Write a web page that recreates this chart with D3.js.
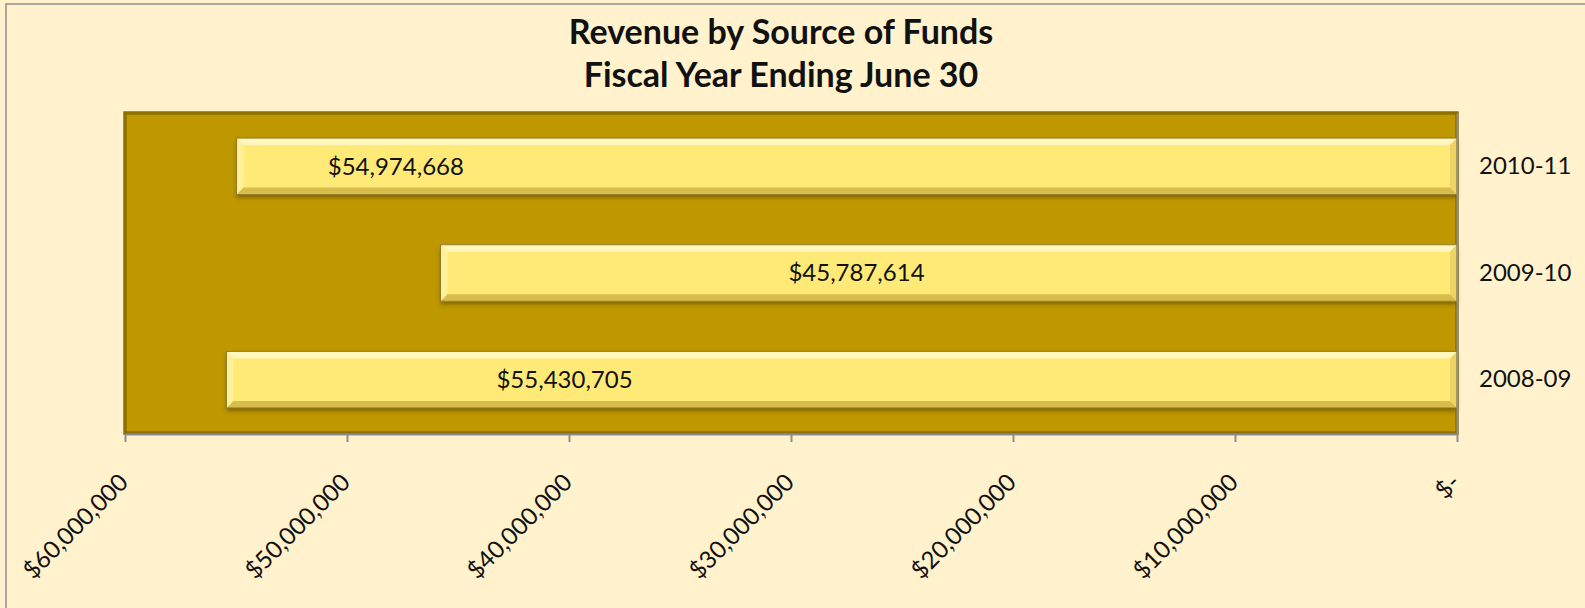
<!DOCTYPE html>
<html>
<head>
<meta charset="utf-8">
<script src="https://cdn.jsdelivr.net/npm/d3@7"></script>
<style>
  html, body { margin: 0; padding: 0; background: #fff2cc; }
  svg { display: block; }
  text { font-family: Lato, 'Open Sans', sans-serif; fill: #111; }
</style>
</head>
<body>
<div id="chart"></div>
<script>
const titleLines = ['Revenue by Source of Funds', 'Fiscal Year Ending June 30'];
const years = ['2010-11', '2009-10', '2008-09'];
const revenue = [54974668, 45787614, 55430705];
// where excel left each data label, in dollars along the axis
const labelAt = [47800000, 27050000, 40200000];
const tickValues = [60000000, 50000000, 40000000, 30000000, 20000000, 10000000, 0];
const tickLabels = ['$60,000,000', '$50,000,000', '$40,000,000', '$30,000,000', '$20,000,000', '$10,000,000', '$-'];

const width = 1585;
const height = 608;
const margin = { top: 113, right: 128, bottom: 175, left: 125 };
const plotRight = width - margin.right;
const plotBottom = height - margin.bottom;

const svg = d3.select('#chart')
  .append('svg')
  .attr('width', width)
  .attr('height', height);

const defs = svg.append('defs');
defs.append('filter')
  .attr('id', 'bar-shadow')
  .attr('x', '-5%').attr('y', '-20%')
  .attr('width', '110%').attr('height', '160%')
  .append('feDropShadow')
  .attr('dx', 0).attr('dy', 3)
  .attr('stdDeviation', 2)
  .attr('flood-color', '#4a3a00')
  .attr('flood-opacity', 0.55);

// chart frame (runs off the page at right and bottom)
svg.append('rect')
  .attr('x', 6).attr('y', 4)
  .attr('width', width + 20).attr('height', height + 20)
  .attr('fill', '#fff2cc')
  .attr('stroke', '#8e8e8e')
  .attr('stroke-width', 1.5);

const xScale = d3.scaleLinear()
  .domain([60000000, 0])
  .range([margin.left, plotRight]);
const yScale = d3.scaleBand()
  .domain(years)
  .range([margin.top, plotBottom])
  .paddingInner(0.47)
  .paddingOuter(0.235);

// plot area
svg.append('rect')
  .attr('x', xScale(60000000))
  .attr('y', margin.top)
  .attr('width', xScale(0) - xScale(60000000))
  .attr('height', plotBottom - margin.top)
  .attr('fill', '#bf9800')
  .attr('stroke', '#8c7000')
  .attr('stroke-width', 3.5);

const data = years.map((y, i) => ({ year: y, value: revenue[i], labelAt: labelAt[i] }));
const bevel = 7;

svg.append('g')
  .selectAll('g')
  .data(data)
  .join('g')
  .each(function (d) {
    const g = d3.select(this);
    const x0 = xScale(d.value);
    const x1 = xScale(0);
    const y0 = yScale(d.year);
    const y1 = y0 + yScale.bandwidth();
    g.append('rect')
      .attr('x', x0).attr('y', y0)
      .attr('width', x1 - x0).attr('height', y1 - y0)
      .attr('fill', '#ffea78')
      .attr('filter', 'url(#bar-shadow)');
    const faces = [
      { fill: '#fff7bd', pts: [[x0, y0], [x1, y0], [x1 - bevel, y0 + bevel], [x0 + bevel, y0 + bevel]] },
      { fill: '#fff09a', pts: [[x0, y0], [x0 + bevel, y0 + bevel], [x0 + bevel, y1 - bevel], [x0, y1]] },
      { fill: '#efd462', pts: [[x1, y0], [x1 - bevel, y0 + bevel], [x1 - bevel, y1 - bevel], [x1, y1]] },
      { fill: '#d9bd4c', pts: [[x0, y1], [x0 + bevel, y1 - bevel], [x1 - bevel, y1 - bevel], [x1, y1]] },
    ];
    g.selectAll('polygon')
      .data(faces)
      .join('polygon')
      .attr('points', (f) => f.pts.map((p) => p.join(',')).join(' '))
      .attr('fill', (f) => f.fill);
    g.append('rect')
      .attr('x', x0).attr('y', y0)
      .attr('width', x1 - x0).attr('height', y1 - y0)
      .attr('fill', 'none')
      .attr('stroke', '#8f7b2a')
      .attr('stroke-width', 1);
  });

// value labels
svg.append('g')
  .selectAll('text')
  .data(data)
  .join('text')
  .attr('x', (d) => xScale(d.labelAt))
  .attr('y', (d) => yScale(d.year) + yScale.bandwidth() / 2)
  .attr('dy', '0.35em')
  .attr('text-anchor', 'middle')
  .attr('font-size', '24px')
  .text((d) => d3.format('$,')(d.value));

// category axis on the right
const yAxis = d3.axisRight(yScale).tickSize(0).tickPadding(22);
svg.append('g')
  .attr('transform', `translate(${plotRight},0)`)
  .call(yAxis)
  .call((g) => g.select('.domain').attr('stroke', '#8e8e8e').attr('stroke-width', 2))
  .call((g) => g.selectAll('text')
    .attr('font-size', '24px')
    .attr('font-family', 'Lato, sans-serif')
    .attr('fill', '#111'));

// value axis at the bottom
const xAxis = d3.axisBottom(xScale)
  .tickValues(tickValues)
  .tickFormat((d, i) => tickLabels[i])
  .tickSize(8)
  .tickSizeOuter(0);
svg.append('g')
  .attr('transform', `translate(0,${plotBottom + 1})`)
  .call(xAxis)
  .call((g) => g.select('.domain').attr('stroke', '#8e8e8e').attr('stroke-width', 2))
  .call((g) => g.selectAll('.tick line').attr('stroke', '#8e8e8e').attr('stroke-width', 2))
  .call((g) => g.selectAll('text')
    .attr('y', 0)
    .attr('dy', 0)
    .attr('transform', 'translate(4,50) rotate(-45)')
    .attr('text-anchor', 'end')
    .attr('font-size', '24px')
    .attr('font-family', 'Lato, sans-serif')
    .attr('fill', '#111'));

// title
svg.append('text')
  .attr('x', 781)
  .attr('text-anchor', 'middle')
  .attr('font-weight', 'bold')
  .attr('font-size', '34px')
  .selectAll('tspan')
  .data(titleLines)
  .join('tspan')
  .attr('x', 781)
  .attr('y', (d, i) => 44 + i * 42.5)
  .text((d) => d);
</script>
</body>
</html>
